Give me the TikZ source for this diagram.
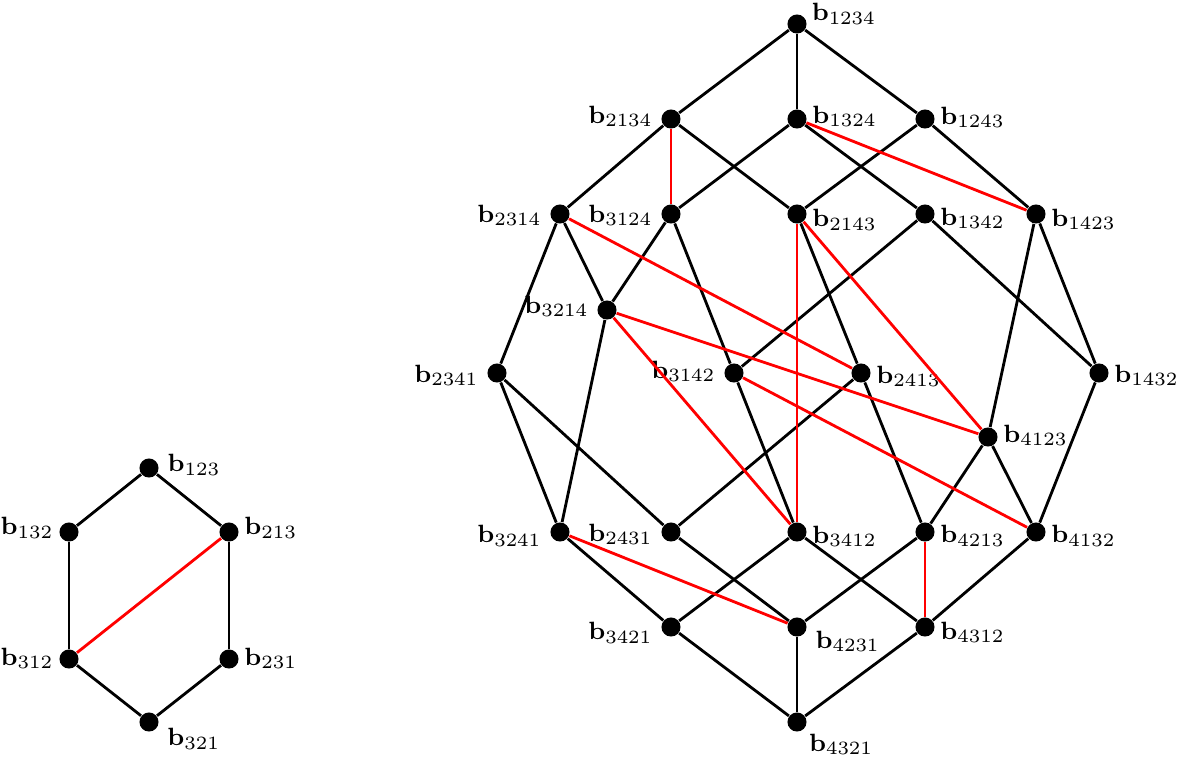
\documentclass[tikz,border=0pt]{standalone}
\usepackage{amsmath}
\usepackage{amssymb}
\usepackage{tikz}
\usetikzlibrary{positioning}

\begin{document}
\begin{tikzpicture}
[x=0.32pt, y=-0.32pt,
% STYLES
% The vert style is used to draw the permutation vertices
vert/.style={circle, fill=black, inner sep=0pt, minimum size=6.1pt},
every label/.style={font=\footnotesize, inner sep=1pt},
label distance=0.5pt,
% labels on the left sit a little further off
lft/.style={xshift=-0.9pt},
% The link style is used for the adjacent transpositions
link/.style={line width=0.9pt, black},
% The redlink style is used for the other transpositions
redlink/.style={line width=0.9pt, red}]
\useasboundingbox (0,0) rectangle (1178,759);
% Draw the hexagon
\node [vert, label={[anchor=west, label distance=1.6pt]12:$\mathbf{b}_{123}$}] (b123) at (149,468) {};
\node [vert, label={[yshift=1.4pt]180:$\mathbf{b}_{132}$}] (b132) at (69,532) {};
\node [vert, label={[yshift=1.4pt]0:$\mathbf{b}_{213}$}] (b213) at (229,532) {};
\node [vert, label={[yshift=0.3pt]180:$\mathbf{b}_{312}$}] (b312) at (69,659) {};
\node [vert, label={[yshift=0.3pt]0:$\mathbf{b}_{231}$}] (b231) at (229,659) {};
\node [vert, label={[anchor=north west, label distance=1.5pt]-10:$\mathbf{b}_{321}$}] (b321) at (149,722) {};
%%%%%%%%%%%%%%%
% Draw the big one, row by row
\node [vert, label={[anchor=south west]-20:$\mathbf{b}_{1234}$}] (b1234) at (797,24) {};
% row 2
\node [vert, label={[lft, yshift=0.9pt]180:$\mathbf{b}_{2134}$}] (b2134) at (671,119) {};
\node [vert, label={[yshift=0.9pt]0:$\mathbf{b}_{1324}$}] (b1324) at (797,119) {};
\node [vert, label={[yshift=0.5pt]0:$\mathbf{b}_{1243}$}] (b1243) at (925,119) {};
% row 3
\node [vert, label={[lft, yshift=-0.5pt]180:$\mathbf{b}_{2314}$}] (b2314) at (560,214) {};
\node [vert, label={[lft, yshift=-0.5pt]180:$\mathbf{b}_{3124}$}] (b3124) at (671,214) {};
\node [vert, label={[yshift=-1.9pt]0:$\mathbf{b}_{2143}$}] (b2143) at (797,214) {};
\node [vert, label={[yshift=-1.35pt]0:$\mathbf{b}_{1342}$}] (b1342) at (925,214) {};
\node [vert, label={[yshift=-1.7pt]0:$\mathbf{b}_{1423}$}] (b1423) at (1036,214) {};
% row 4
\node [vert, label={[lft, yshift=1.1pt]180:$\mathbf{b}_{3214}$}] (b3214) at (607,310) {};
\node [vert, label={[lft, yshift=-0.7pt]180:$\mathbf{b}_{2341}$}] (b2341) at (497,373) {};
\node [vert, label={[lft, yshift=0.6pt]180:$\mathbf{b}_{3142}$}] (b3142) at (734,373) {};
\node [vert, label={[yshift=-1pt]0:$\mathbf{b}_{2413}$}] (b2413) at (861,373) {};
\node [vert, label={[yshift=-0.7pt]0:$\mathbf{b}_{1432}$}] (b1432) at (1099,373) {};
\node [vert, label={[yshift=0.6pt]0:$\mathbf{b}_{4123}$}] (b4123) at (988,437) {};
% row 5
\node [vert, label={[lft, yshift=-1.15pt]180:$\mathbf{b}_{3241}$}] (b3241) at (560,532) {};
\node [vert, label={[lft, yshift=-0.8pt]180:$\mathbf{b}_{2431}$}] (b2431) at (671,532) {};
\node [vert, label={[yshift=-1.3pt]0:$\mathbf{b}_{3412}$}] (b3412) at (797,532) {};
\node [vert, label={[yshift=-1.15pt]0:$\mathbf{b}_{4213}$}] (b4213) at (925,532) {};
\node [vert, label={[yshift=-1.15pt]0:$\mathbf{b}_{4132}$}] (b4132) at (1036,532) {};
% row 6
\node [vert, label={[lft, yshift=-1.8pt]180:$\mathbf{b}_{3421}$}] (b3421) at (671,627) {};
\node [vert, label={[anchor=north west, label distance=1.5pt]0:$\mathbf{b}_{4231}$}] (b4231) at (797,627) {};
\node [vert, label={[yshift=-1.7pt]0:$\mathbf{b}_{4312}$}] (b4312) at (925,627) {};
\node [vert, label={[anchor=north west]-45:$\mathbf{b}_{4321}$}] (b4321) at (797,722) {};
%%%%%%%%%%%%%%%%
% Draw the links
\path[link]
(b123) edge (b132)
(b123) edge (b213)
(b132) edge (b312)
(b213) edge (b231)
(b312) edge (b321)
(b231) edge (b321)
(b1234) edge (b2134)
(b1234) edge (b1324)
(b1234) edge (b1243)
(b2134) edge (b2314)
(b2134) edge (b2143)
(b1324) edge (b3124)
(b1324) edge (b1342)
(b1243) edge (b2143)
(b1243) edge (b1423)
(b2314) edge (b3214)
(b2314) edge (b2341)
(b3124) edge (b3214)
(b3124) edge (b3142)
(b2143) edge (b2413)
(b1342) edge (b3142)
(b1342) edge (b1432)
(b1423) edge (b4123)
(b1423) edge (b1432)
(b3214) edge (b3241)
(b2341) edge (b3241)
(b2341) edge (b2431)
(b3142) edge (b3412)
(b2413) edge (b4213)
(b2413) edge (b2431)
(b1432) edge (b4132)
(b4123) edge (b4213)
(b4123) edge (b4132)
(b3241) edge (b3421)
(b2431) edge (b4231)
(b3412) edge (b4312)
(b3412) edge (b3421)
(b4213) edge (b4231)
(b4132) edge (b4312)
(b3421) edge (b4321)
(b4231) edge (b4321)
(b4312) edge (b4321);
\path[redlink]
(b213) edge (b312)
(b2134) edge (b3124)
(b1324) edge (b1423)
(b2314) edge (b2413)
(b2143) edge (b3412)
(b2143) edge (b4123)
(b3214) edge (b4123)
(b3214) edge (b3412)
(b3142) edge (b4132)
(b3241) edge (b4231)
(b4213) edge (b4312);
\end{tikzpicture}
\end{document}
